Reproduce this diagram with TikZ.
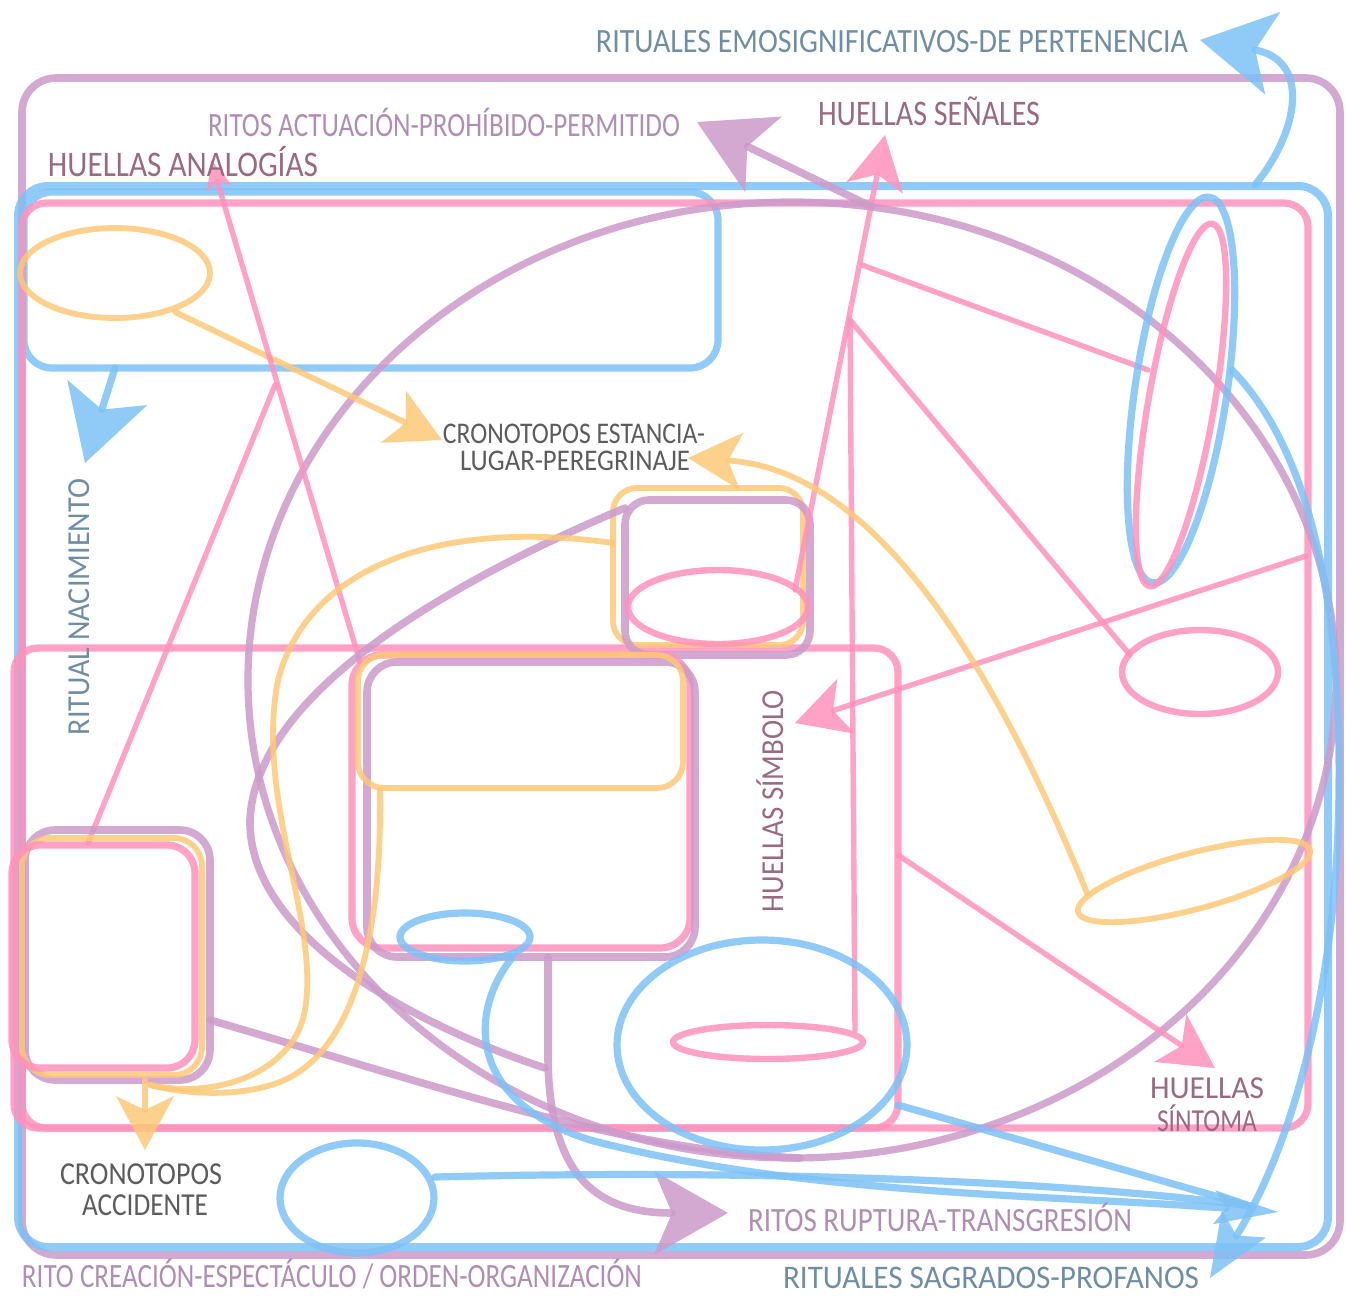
\documentclass[tikz,border=0pt]{standalone}
\usepackage{fontspec}
\setmainfont{Carlito}
\usepackage{graphicx}
\usetikzlibrary{arrows.meta}
\definecolor{cblue}{HTML}{7DC1F5}
\definecolor{cpink}{HTML}{FF92BC}
\definecolor{cpurp}{HTML}{CC9ACB}
\definecolor{corng}{HTML}{FDC877}
\definecolor{tsteel}{HTML}{6F8EA6}
\definecolor{tpurp}{HTML}{B08DB3}
\definecolor{tmauve}{HTML}{9A6A80}
\definecolor{tgrey}{HTML}{5C5C5C}
\newcommand\fitw[2]{\resizebox{#1}{\height}{#2}}
\tikzset{
  blu/.style={draw=cblue, opacity=.85, line width=3.6pt},
  pnk/.style={draw=cpink, opacity=.85, line width=3.2pt},
  pnkthin/.style={draw=cpink, opacity=.85, line width=2.7pt},
  pur/.style={draw=cpurp, opacity=.85, line width=3.8pt},
  org/.style={draw=corng, opacity=.85, line width=2.9pt},
  lbl/.style={anchor=base, inner sep=0pt, outer sep=0pt},
  bigtip/.style={-{Stealth[length=37pt,width=42pt,inset=9pt,line width=0pt]}},
  midtip/.style={-{Stealth[length=27pt,width=29pt,inset=7pt,line width=0pt]}},
  smalltip/.style={-{Stealth[length=15pt,width=13pt,inset=4pt,line width=0pt]}},
  narrowtip/.style={-{Stealth[length=32pt,width=17pt,inset=6pt,line width=0pt]}},
  sagtip/.style={-{Stealth[length=32pt,width=26pt,inset=7pt,line width=0pt]}},
}
\begin{document}
\begin{tikzpicture}[x=0.5pt,y=-0.5pt,line cap=round,line join=round]
\useasboundingbox (0,0) rectangle (1346,1296);
\fill[white] (0,0) rectangle (1346,1296);

% ---------- coordinates (free ends of connectors)
\coordinate (tEmo) at (1200,40);
\coordinate (tActu) at (697,122);
\coordinate (tSen) at (885,135);
\coordinate (tAna) at (211,160);
\coordinate (tEst) at (442,440);
\coordinate (tPer) at (688,458);
\coordinate (tNac) at (85,463);
\coordinate (tSim) at (795,723);
\coordinate (tSin) at (1215,1068);
\coordinate (tAcc) at (145,1150);
\coordinate (tRup) at (728,1213);
\coordinate (tSag) at (1210,1278);
\coordinate (tConv) at (1278,1212);

% ---------- outer frames
\draw[pur,rounded corners=17pt] (22,78) rectangle (1340,1255);
\draw[blu,line width=4pt,rounded corners=15pt] (18,186) rectangle (1328,1247);
\draw[blu,rounded corners=14pt] (24,192) rectangle (718,368);
\draw[pnk,line width=3.6pt,rounded corners=12pt] (22,203) rectangle (1308,1128);
\draw[pnk,line width=3.6pt,rounded corners=12pt] (14,648) rectangle (898,1128);

% ---------- big purple circle
\draw[pur,line width=3.6pt] (792,680) ellipse [x radius=544, y radius=478];

% ---------- top-left
\draw[org] (115,273) ellipse [x radius=95, y radius=45];
\coordinate (oe) at (175,312);
\draw[org,midtip] (oe) -- (tEst);
\coordinate (bb) at (115,368);
\draw[blu,bigtip] (bb) -- (tNac);
\coordinate (pc) at (360,662);
\draw[pnkthin,smalltip] (pc) -- (tAna);
\coordinate (pk) at (275,385);
\coordinate (pbx) at (88,843);
\draw[pnkthin] (pbx) -- (pk);

% ---------- small cluster
\draw[org,rounded corners=12pt] (613,488) rectangle (803,645);
\draw[pur,rounded corners=12pt] (625,500) rectangle (810,655);
\draw[pnk] (718,607) ellipse [x radius=90, y radius=37];

% ---------- pink lines right
\coordinate (ps0) at (795,590);
\draw[pnkthin,midtip] (ps0) -- (tSen);
\coordinate (pa) at (862,265);
\coordinate (pb) at (850,320);
\coordinate (pe1) at (1148,370);
\coordinate (pe2) at (1130,655);
\coordinate (pe3) at (855,1030);
\draw[pnkthin] (pa) -- (pe1);
\draw[pnkthin] (pb) -- (pe2);
\draw[pnkthin] (pb) -- (pe3);
\draw[pnk] (1200,672) ellipse [x radius=78, y radius=42];
\coordinate (pr) at (1306,556);
\draw[pnkthin,midtip] (pr) -- (tSim);
\coordinate (pbr) at (898,855);
\draw[pnkthin,midtip] (pbr) -- (tSin);
\draw[pnk] (768,1042) ellipse [x radius=95, y radius=17];

% ---------- right tall ellipses
\draw[blu,rotate around={81.6:(1181,390)}] (1181,390) ellipse [x radius=195, y radius=46];
\draw[pnk,rotate around={80.2:(1181,405)}] (1181,405) ellipse [x radius=184, y radius=33];

% ---------- center cluster
\draw[pnk,line width=3.6pt,rounded corners=15pt] (352,655) rectangle (690,948);
\draw[pur,rounded corners=15pt] (367,662) rectangle (695,957);
\draw[org,rounded corners=13pt] (358,655) rectangle (683,788);

% ---------- lower-left box
\draw[pur,rounded corners=15pt] (25,830) rectangle (210,1080);
\draw[org,rounded corners=14pt] (22,838) rectangle (202,1075);
\draw[pnk,line width=3.6pt,rounded corners=14pt] (12,845) rectangle (195,1068);

% ---------- purple arrows & curves
\coordinate (pt) at (872,207);
\draw[pur,bigtip] (pt) -- (tActu);
\coordinate (p2a) at (625,508);
\coordinate (p2b) at (545,1068);
\draw[pur] (p2a) .. controls (430,590) and (255,700) .. (250,820)
      .. controls (248,930) and (400,1020) .. (p2b);
\coordinate (p3a) at (548,957);
\draw[pur,bigtip] (p3a) -- (548,1060) .. controls (550,1180) and (600,1213) .. (tRup);
\coordinate (p4a) at (210,1020);
\coordinate (p4b) at (800,1158);
\draw[pur] (p4a) .. controls (450,1090) and (620,1150) .. (p4b);

% ---------- orange curves
\coordinate (o1a) at (380,790);
\coordinate (oend) at (150,1085);
\draw[org] (o1a) .. controls (382,920) and (360,1050) .. (280,1082)
      .. controls (240,1097) and (190,1095) .. (oend);
\coordinate (o2a) at (613,543);
\draw[org] (o2a) .. controls (450,520) and (310,560) .. (278,680)
      .. controls (255,800) and (320,920) .. (305,1010)
      .. controls (295,1070) and (220,1100) .. (oend);
\coordinate (obx) at (145,1080);
\draw[org,midtip] (obx) -- (tAcc);
\draw[org,rotate around={15:(1194,881)}] (1194,881) ellipse [x radius=120, y radius=28];
\coordinate (oel) at (1087,893);
\draw[org,midtip] (oel) .. controls (1000,680) and (880,470) .. (tPer);

% ---------- blue shapes
\draw[blu] (465,937) ellipse [x radius=65, y radius=24];
\draw[blu] (762,1045) ellipse [x radius=145, y radius=105];
\draw[blu] (357,1198) ellipse [x radius=77, y radius=55];
\coordinate (b2a) at (512,958);
\draw[blu,narrowtip] (b2a) .. controls (470,1010) and (465,1100) .. (590,1140)
      .. controls (800,1195) and (1050,1195) .. (tConv);
\coordinate (b3a) at (898,1105);
\coordinate (bconv) at (1250,1206);
\draw[blu] (b3a) -- (bconv);
\coordinate (b4a) at (435,1177);
\draw[blu] (b4a) .. controls (800,1168) and (1100,1185) .. (bconv);
\coordinate (bra) at (1232,370);
\draw[blu,sagtip] (bra) .. controls (1320,460) and (1345,640) .. (1338,830)
      .. controls (1332,1000) and (1290,1150) .. (tSag);
\coordinate (bta) at (1255,185);
\draw[blu,bigtip] (bta) .. controls (1300,130) and (1310,60) .. (tEmo);

% ---------- labels
\node[lbl,text=tsteel,font=\fontsize{17}{17}\selectfont] (lEmo) at (892,52)
  {\fitw{296pt}{RITUALES EMOSIGNIFICATIVOS-DE PERTENENCIA}};
\node[lbl,text=tpurp,font=\fontsize{17}{17}\selectfont] (lActu) at (444,136)
  {\fitw{236pt}{RITOS ACTUACIÓN-PROHÍBIDO-PERMITIDO}};
\node[lbl,text=tmauve,font=\fontsize{18}{18}\selectfont] (lSen) at (929,125)
  {\fitw{111pt}{HUELLAS SEÑALES}};
\node[lbl,text=tmauve,font=\fontsize{18}{18}\selectfont] (lAna) at (183,176)
  {\fitw{135pt}{HUELLAS ANALOGÍAS}};
\node[lbl,text=tgrey,font=\fontsize{15}{15}\selectfont] (lEst) at (574,443)
  {\fitw{131pt}{CRONOTOPOS ESTANCIA-}};
\node[lbl,text=tgrey,font=\fontsize{15}{15}\selectfont] (lPer) at (575,470)
  {\fitw{115pt}{LUGAR-PEREGRINAJE}};
\node[lbl,text=tsteel,font=\fontsize{16}{16}\selectfont,rotate=90] (lNac) at (90,607)
  {\fitw{128pt}{RITUAL NACIMIENTO}};
\node[lbl,text=tmauve,font=\fontsize{16}{16}\selectfont,rotate=90] (lSim) at (783,801)
  {\fitw{111pt}{HUELLAS SÍMBOLO}};
\node[lbl,text=tmauve,font=\fontsize{16}{16}\selectfont] (lHu) at (1207,1098)
  {\fitw{57pt}{HUELLAS}};
\node[lbl,text=tmauve,font=\fontsize{16}{16}\selectfont] (lSin) at (1207,1131)
  {\fitw{50pt}{SÍNTOMA}};
\node[lbl,text=tgrey,font=\fontsize{16}{16}\selectfont] (lCro) at (141,1184)
  {\fitw{81pt}{CRONOTOPOS}};
\node[lbl,text=tgrey,font=\fontsize{16}{16}\selectfont] (lAcc) at (145,1215)
  {\fitw{63pt}{ACCIDENTE}};
\node[lbl,text=tpurp,font=\fontsize{17}{17}\selectfont] (lRup) at (940,1231)
  {\fitw{192pt}{RITOS RUPTURA-TRANSGRESIÓN}};
\node[lbl,text=tpurp,font=\fontsize{17}{17}\selectfont] (lCre) at (332,1287)
  {\fitw{310pt}{RITO CREACIÓN-ESPECTÁCULO / ORDEN-ORGANIZACIÓN}};
\node[lbl,text=tsteel,font=\fontsize{16.5}{16.5}\selectfont] (lSag) at (991,1288)
  {\fitw{208pt}{RITUALES SAGRADOS-PROFANOS}};
\end{tikzpicture}
\end{document}
